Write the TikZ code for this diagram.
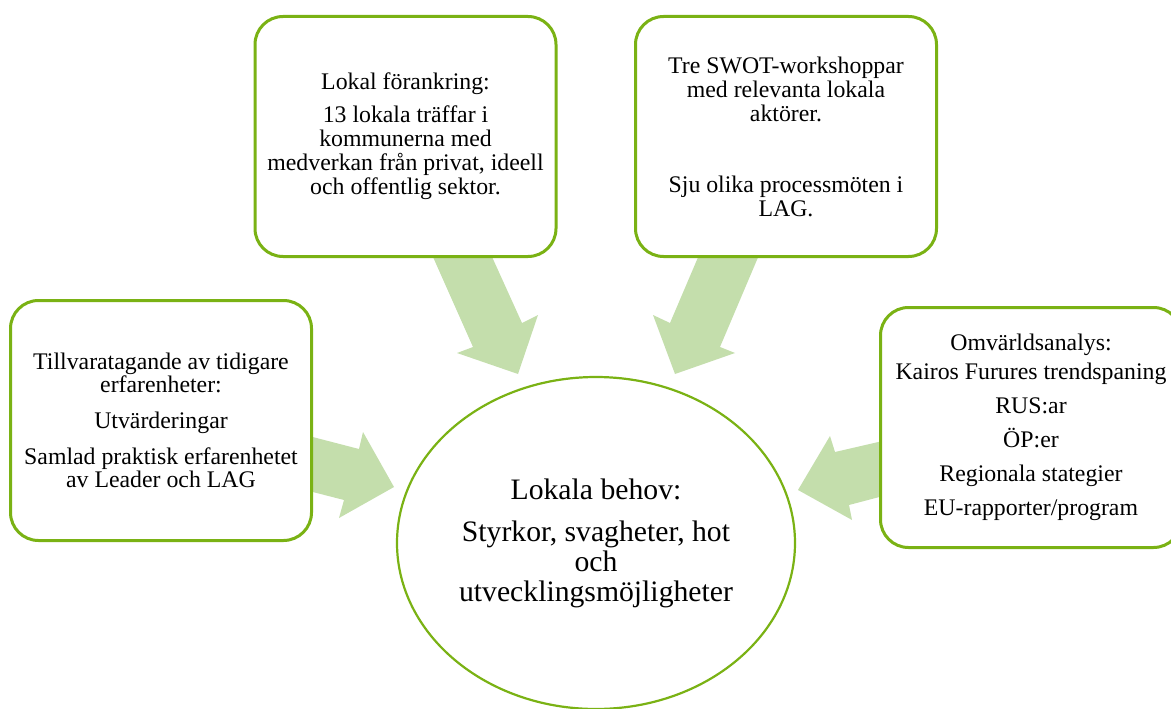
\documentclass[tikz,border=0pt]{standalone}
\usepackage{fontspec}
\setmainfont{Liberation Serif}
\usetikzlibrary{shapes.geometric,backgrounds}
\definecolor{boxgreen}{RGB}{122,178,20}
\definecolor{arrowgreen}{RGB}{196,222,172}
\begin{document}
\begin{tikzpicture}[x=1pt,y=-1pt,
  infobox/.style={draw=boxgreen, line width=3pt, rounded corners=28pt, fill=white,
    align=center, inner sep=0pt, minimum width=301pt, minimum height=240pt,
    font=\fontsize{23.8}{24}\selectfont},
  blockarrow/.style={fill=arrowgreen, draw=none},
  centrenode/.style={ellipse, draw=boxgreen, line width=2.2pt, fill=white,
    align=center, inner sep=0pt, minimum width=398pt, minimum height=332pt,
    font=\fontsize{29.7}{30}\selectfont}]
\useasboundingbox (0,0) rectangle (1171,709);
\clip (0,0) rectangle (1171,709);

\node[infobox] (lokal) at (405.5,136.5) {Lokal förankring:\\[9pt]
  13 lokala träffar i\\ kommunerna med\\ medverkan från privat, ideell\\ och offentlig sektor.};
\node[infobox] (swot) at (786,136.5) {Tre SWOT-workshoppar\\ med relevanta lokala\\ aktörer.\\[47pt]
  Sju olika processmöten i\\ LAG.};
\node[infobox, font=\fontsize{23.8}{23}\selectfont] (tidigare) at (161,420.5) {Tillvaratagande av tidigare\\ erfarenheter:\\[13pt]
  Utvärderingar\\[13pt]
  Samlad praktisk erfarenhetet\\ av Leader och LAG};
\node[infobox] (omvarld) at (1031,427.5) {Omvärldsanalys:\\[5pt]
  Kairos Furures trendspaning\\[10pt]
  RUS:ar\\[10pt]
  ÖP:er\\[10pt]
  Regionala stategier\\[10pt]
  EU-rapporter/program};
\node[centrenode] (behov) at (596,543) {Lokala behov:\\[12pt]
  Styrkor, svagheter, hot\\ och\\ utvecklingsmöjligheter};

\begin{scope}[on background layer]
  \fill[blockarrow] (429,248) -- (488,248) -- (522,323) -- (538,315) -- (518,374) -- (457,353) -- (473,347) -- cycle;
  \fill[blockarrow] (702,248) -- (762,248) -- (720,347) -- (735,353) -- (675,374) -- (653,315) -- (670,323) -- cycle;
  \fill[blockarrow] (305,435) -- (359,449) -- (363,432) -- (394,487) -- (339,518) -- (344,500) -- (305,490) -- cycle;
  \fill[blockarrow] (887,440) -- (835,452) -- (830,436) -- (798,490) -- (852,520) -- (849,505) -- (887,495) -- cycle;
\end{scope}
\end{tikzpicture}
\end{document}
